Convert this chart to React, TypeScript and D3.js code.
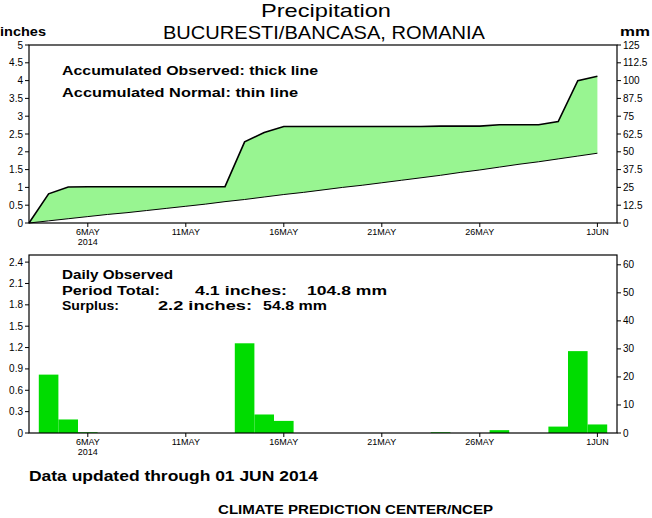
import React from "react";
import * as d3 from "d3";

// ---- data ----
const startDate = new Date(Date.UTC(2014, 4, 3));
const endDate = new Date(Date.UTC(2014, 5, 2));
const dayLabels = [
  "2014-05-03","2014-05-04","2014-05-05","2014-05-06","2014-05-07","2014-05-08","2014-05-09","2014-05-10",
  "2014-05-11","2014-05-12","2014-05-13","2014-05-14","2014-05-15","2014-05-16","2014-05-17","2014-05-18",
  "2014-05-19","2014-05-20","2014-05-21","2014-05-22","2014-05-23","2014-05-24","2014-05-25","2014-05-26",
  "2014-05-27","2014-05-28","2014-05-29","2014-05-30","2014-05-31","2014-06-01",
];
const dailyObserved = [
  0, 0.82, 0.19, 0.01, 0, 0, 0, 0,
  0, 0, 0, 1.26, 0.26, 0.17, 0, 0,
  0, 0, 0, 0, 0, 0.01, 0, 0,
  0.04, 0, 0, 0.09, 1.15, 0.12,
];
const accumNormal = [
  0.0, 0.06, 0.12, 0.18, 0.24, 0.29, 0.35, 0.41,
  0.47, 0.53, 0.6, 0.66, 0.73, 0.8, 0.86, 0.93,
  1.0, 1.06, 1.13, 1.2, 1.27, 1.34, 1.42, 1.49,
  1.57, 1.65, 1.72, 1.8, 1.88, 1.96,
];
const xTickDates = ["2014-05-06","2014-05-11","2014-05-16","2014-05-21","2014-05-26","2014-06-01"];
const xTickLabels = ["6MAY","11MAY","16MAY","21MAY","26MAY","1JUN"];
const topLeftTicks = [0, 0.5, 1, 1.5, 2, 2.5, 3, 3.5, 4, 4.5, 5];
const topLeftLabels = ["0","0.5","1","1.5","2","2.5","3","3.5","4","4.5","5"];
const topRightTicks = [0, 12.5, 25, 37.5, 50, 62.5, 75, 87.5, 100, 112.5, 125];
const topRightLabels = ["0","12.5","25","37.5","50","62.5","75","87.5","100","112.5","125"];
const botLeftTicks = [0, 0.3, 0.6, 0.9, 1.2, 1.5, 1.8, 2.1, 2.4];
const botLeftLabels = ["0","0.3","0.6","0.9","1.2","1.5","1.8","2.1","2.4"];
const botRightTicks = [0, 10, 20, 30, 40, 50, 60];
const botRightLabels = ["0","10","20","30","40","50","60"];

const parse = (s: string) => new Date(s + "T00:00:00Z");
const dates = dayLabels.map(parse);
const accumObserved = Array.from(d3.cumsum(dailyObserved));

const FONT = "'Liberation Sans', Arial, sans-serif";
const BAR = "#00dc00";
const FILL = "#98f591";

export default function App() {
  const L = 29, R = 617;
  const x = d3.scaleUtc().domain([startDate, endDate]).range([L, R]);
  const dayW = x(parse("2014-05-04")) - x(parse("2014-05-03"));

  const yT = d3.scaleLinear().domain([0, 5]).range([223, 45]);
  const yTmm = d3.scaleLinear().domain([0, 125]).range([223, 45]);
  const yB = d3.scaleLinear().domain([0, 2.5]).range([433, 255]);
  const yBmm = d3.scaleLinear().domain([0, 63.5]).range([433, 255]);

  const area = d3.area<number>()
    .x((_, i) => x(dates[i]))
    .y0((_, i) => yT(accumNormal[i]))
    .y1((d) => yT(d));
  const lineObs = d3.line<number>().x((_, i) => x(dates[i])).y((d) => yT(d));
  const lineNorm = d3.line<number>().x((_, i) => x(dates[i])).y((d) => yT(d));

  const xAxis = (y0: number, key: string) => (
    <g key={key}>
      {xTickDates.map((s, i) => {
        const xx = x(parse(s));
        return (
          <g key={s}>
            <line x1={xx} x2={xx} y1={y0} y2={y0 + 4} stroke="#000" />
            <text x={xx} y={y0 + 11.5} fontSize={9} textAnchor="middle" fontFamily={FONT}>{xTickLabels[i]}</text>
            {i === 0 && (
              <text x={xx} y={y0 + 21.5} fontSize={9} textAnchor="middle" fontFamily={FONT}>2014</text>
            )}
          </g>
        );
      })}
    </g>
  );

  const yAxisLeft = (sc: d3.ScaleLinear<number, number>, ticks: number[], labels: string[]) => (
    <g>
      {ticks.map((t, i) => (
        <g key={i}>
          <line x1={L - 4} x2={L} y1={sc(t)} y2={sc(t)} stroke="#000" />
          <text x={L - 6} y={sc(t) + 3.5} fontSize={10} textAnchor="end" fontFamily={FONT}>{labels[i]}</text>
        </g>
      ))}
    </g>
  );
  const yAxisRight = (sc: d3.ScaleLinear<number, number>, ticks: number[], labels: string[]) => (
    <g>
      {ticks.map((t, i) => (
        <g key={i}>
          <line x1={R} x2={R + 4} y1={sc(t)} y2={sc(t)} stroke="#000" />
          <text x={R + 6} y={sc(t) + 3.5} fontSize={10} textAnchor="start" fontFamily={FONT}>{labels[i]}</text>
        </g>
      ))}
    </g>
  );

  const LA = "spacingAndGlyphs";

  return (
    <svg width={652} height={518} style={{ position: "absolute", left: 0, top: 0, background: "#fff" }}>
      <rect x={0} y={0} width={652} height={518} fill="#fff" />
      <text x={326} y={17} fontSize={19} textAnchor="middle" fontFamily={FONT} textLength={130} lengthAdjust={LA}>Precipitation</text>
      <text x={324} y={39} fontSize={19} textAnchor="middle" fontFamily={FONT} textLength={322} lengthAdjust={LA}>BUCURESTI/BANCASA,  ROMANIA</text>
      <text x={0} y={36} fontSize={13} fontWeight="bold" fontFamily={FONT} textLength={46} lengthAdjust={LA}>inches</text>
      <text x={620} y={36} fontSize={13} fontWeight="bold" fontFamily={FONT} textLength={30} lengthAdjust={LA}>mm</text>

      {/* top panel */}
      <path d={area(accumObserved) || ""} fill={FILL} />
      <path d={lineNorm(accumNormal) || ""} fill="none" stroke="#000" strokeWidth={1} />
      <path d={lineObs(accumObserved) || ""} fill="none" stroke="#000" strokeWidth={1.6} />
      <rect x={L} y={45} width={R - L} height={223 - 45} fill="none" stroke="#000" strokeWidth={1.2} />
      {yAxisLeft(yT, topLeftTicks, topLeftLabels)}
      {yAxisRight(yTmm, topRightTicks, topRightLabels)}
      {xAxis(223, "top")}
      <text x={62} y={75} fontSize={13.5} fontWeight="bold" fontFamily={FONT} textLength={256} lengthAdjust={LA}>Accumulated Observed: thick line</text>
      <text x={62} y={97} fontSize={13.5} fontWeight="bold" fontFamily={FONT} textLength={236} lengthAdjust={LA}>Accumulated Normal: thin line</text>

      {/* bottom panel */}
      {dailyObserved.map((v, i) =>
        v > 0 ? (
          <rect key={i} x={x(dates[i]) - dayW / 2} y={yB(v)} width={dayW} height={yB(0) - yB(v)} fill={BAR} />
        ) : null
      )}
      <rect x={L} y={255} width={R - L} height={433 - 255} fill="none" stroke="#000" strokeWidth={1.2} />
      {yAxisLeft(yB, botLeftTicks, botLeftLabels)}
      {yAxisRight(yBmm, botRightTicks, botRightLabels)}
      {xAxis(433, "bot")}
      <text x={62} y={279} fontSize={13.5} fontWeight="bold" fontFamily={FONT} textLength={111} lengthAdjust={LA}>Daily Observed</text>
      <text x={62} y={295} fontSize={13.5} fontWeight="bold" fontFamily={FONT} textLength={98} lengthAdjust={LA}>Period Total:</text>
      <text x={195} y={295} fontSize={13.5} fontWeight="bold" fontFamily={FONT} textLength={92} lengthAdjust={LA}>4.1 inches:</text>
      <text x={307} y={295} fontSize={13.5} fontWeight="bold" fontFamily={FONT} textLength={80} lengthAdjust={LA}>104.8 mm</text>
      <text x={62} y={310} fontSize={13.5} fontWeight="bold" fontFamily={FONT} textLength={57} lengthAdjust={LA}>Surplus:</text>
      <text x={158} y={310} fontSize={13.5} fontWeight="bold" fontFamily={FONT} textLength={94} lengthAdjust={LA}>2.2 inches:</text>
      <text x={263} y={310} fontSize={13.5} fontWeight="bold" fontFamily={FONT} textLength={64} lengthAdjust={LA}>54.8 mm</text>

      <text x={29} y={481} fontSize={14} fontFamily={FONT} fontWeight="bold" textLength={289} lengthAdjust={LA}>Data updated through 01 JUN 2014</text>
      <text x={218} y={514} fontSize={13} fontFamily={FONT} fontWeight="bold" textLength={275} lengthAdjust={LA}>CLIMATE PREDICTION CENTER/NCEP</text>
    </svg>
  );
}
